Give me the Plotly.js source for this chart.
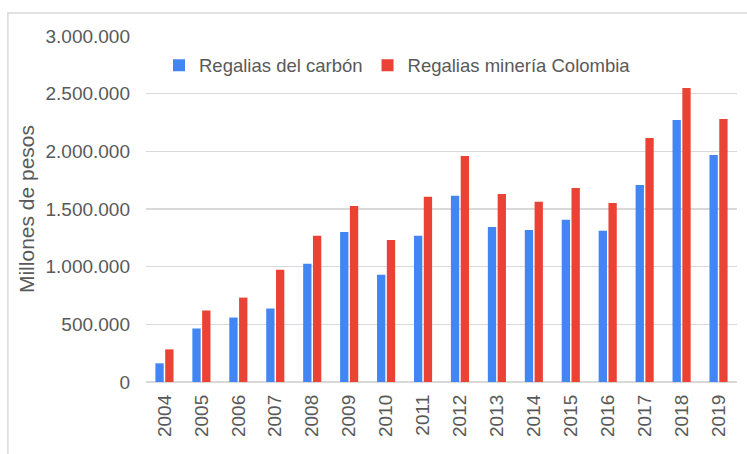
<!DOCTYPE html>
<html>
<head>
<meta charset="utf-8">
<script src="https://cdn.plot.ly/plotly-3.0.1.min.js"></script>
<style>html,body{margin:0;padding:0;background:#fff;}#chart{width:747px;height:454px;}</style>
</head>
<body>
<div id="chart"></div>
<script>
var years = ["2004","2005","2006","2007","2008","2009","2010","2011","2012","2013","2014","2015","2016","2017","2018","2019"];
var carbon = [162000, 464000, 559000, 637000, 1026000, 1301000, 930000, 1267000, 1614000, 1345000, 1319000, 1406000, 1311000, 1709000, 2272000, 1969000];
var mineria = [283000, 620000, 732000, 974000, 1267000, 1526000, 1232000, 1606000, 1960000, 1631000, 1562000, 1683000, 1553000, 2116000, 2549000, 2281000];
var seriesNames = ["Regalias del carbón", "Regalias minería Colombia"];
var yTicks = [0, 500000, 1000000, 1500000, 2000000, 2500000, 3000000];

var font = "Liberation Sans, Arial, sans-serif";
var txt = "#595959";

var data = [
  {type: "bar", name: seriesNames[0], x: years, y: carbon, marker: {color: "#4285F4"}, hoverinfo: "x+y"},
  {type: "bar", name: seriesNames[1], x: years, y: mineria, marker: {color: "#EA4335"}, hoverinfo: "x+y"}
];

var layout = {
  width: 747, height: 454,
  margin: {l: 145.5, r: 10, t: 36, b: 71.5, pad: 0},
  paper_bgcolor: "#ffffff", plot_bgcolor: "#ffffff",
  separators: ",.",
  font: {family: font, size: 18.5, color: txt},
  barmode: "group", bargap: 0.47, bargroupgap: 0.15,
  showlegend: true,
  legend: {orientation: "h", x: 0.022, xanchor: "left", y: 0.914, yanchor: "middle",
           bgcolor: "rgba(0,0,0,0)", font: {family: font, size: 18.5, color: txt}},
  xaxis: {type: "category", tickangle: -90, showgrid: false, showline: false, zeroline: false,
          ticks: "", ticklabelstandoff: 8, tickfont: {family: font, size: 19, color: txt}},
  yaxis: {range: [0, 3000000], tickvals: yTicks, tickformat: ",d", showgrid: true,
          gridcolor: "#d9d9d9", gridwidth: 1.5, zeroline: true, zerolinecolor: "#d9d9d9", zerolinewidth: 1.5,
          showline: false, ticks: "", ticklabelstandoff: 15,
          tickfont: {family: font, size: 19, color: txt},
          title: {text: "Millones de pesos", standoff: 5, font: {family: font, size: 21, color: txt}},
          automargin: false},
  shapes: [{type: "rect", xref: "paper", yref: "paper", x0: -0.2337, x1: 1.1, y0: -0.4, y1: 1.0663,
            line: {color: "#d9d9d9", width: 1.5}, fillcolor: "rgba(0,0,0,0)", layer: "below"}]
};

Plotly.newPlot("chart", data, layout, {displayModeBar: false, staticPlot: true});
</script>
</body>
</html>
